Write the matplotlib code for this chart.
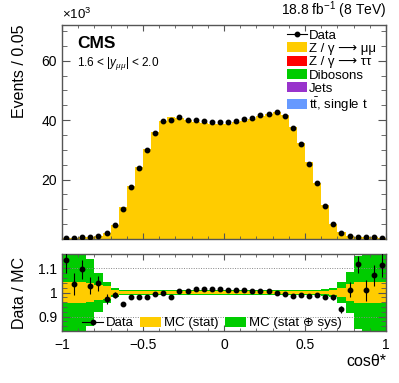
import numpy as np
import matplotlib
matplotlib.use("Agg")
import matplotlib.pyplot as plt
from matplotlib.patches import Patch
from matplotlib.lines import Line2D
from matplotlib.ticker import MultipleLocator

plt.rcParams['font.family'] = ['Liberation Sans', 'DejaVu Sans']
plt.rcParams['mathtext.fontset'] = 'custom'
plt.rcParams['mathtext.rm'] = 'Liberation Sans'
plt.rcParams['mathtext.it'] = 'Liberation Sans:italic'
plt.rcParams['mathtext.bf'] = 'Liberation Sans:bold'

# ---------------- data ----------------
edges = np.linspace(-1, 1, 41)
# data (x10^3 events per bin)
data = [0.4, 0.4, 0.7, 0.8, 1.1, 2.1, 4.8, 10.2, 17.4, 23.8,
        29.8, 35.6, 39.6, 40.2, 41.0, 40.1, 40.0, 39.7, 39.3, 39.2,
        39.2, 39.6, 40.3, 40.7, 41.6, 42.2, 42.6, 41.4, 37.2, 31.9,
        25.4, 18.8, 11.1, 5.1, 2.1, 1.1, 0.8, 0.6, 0.6, 0.4]
# data / MC ratio
ratio = [1.133, 1.035, 1.096, 1.028, 1.038, 0.972, 0.990, 0.954, 0.983, 0.980,
         0.981, 0.992, 0.998, 0.983, 1.008, 1.005, 1.014, 1.013, 1.013, 1.013,
         1.010, 1.010, 1.012, 1.008, 1.006, 1.005, 0.999, 0.995, 0.986, 0.991,
         0.986, 0.991, 0.981, 0.980, 0.930, 1.012, 1.117, 1.009, 1.071, 1.114]
ratio_err = [0.050, 0.045, 0.040, 0.035, 0.030, 0.020, 0.012, 0.008, 0.005, 0.004,
             0.003, 0.003, 0.003, 0.003, 0.003, 0.003, 0.003, 0.003, 0.003, 0.003,
             0.003, 0.003, 0.003, 0.003, 0.003, 0.003, 0.003, 0.003, 0.003, 0.003,
             0.004, 0.005, 0.006, 0.010, 0.015, 0.030, 0.035, 0.045, 0.045, 0.050]
# MC stat and stat+sys half-widths
mc_stat = [0.045, 0.045, 0.045, 0.040, 0.033, 0.025, 0.012, 0.008, 0.006, 0.005,
           0.005, 0.005, 0.005, 0.005, 0.005, 0.005, 0.005, 0.005, 0.005, 0.005,
           0.005, 0.005, 0.005, 0.005, 0.005, 0.005, 0.005, 0.005, 0.005, 0.006,
           0.006, 0.007, 0.008, 0.010, 0.020, 0.035, 0.045, 0.045, 0.045, 0.045]
mc_tot = [0.200, 0.200, 0.170, 0.140, 0.080, 0.045, 0.020, 0.012, 0.010, 0.009,
          0.009, 0.009, 0.009, 0.009, 0.009, 0.009, 0.009, 0.009, 0.009, 0.009,
          0.009, 0.009, 0.009, 0.009, 0.009, 0.009, 0.009, 0.009, 0.009, 0.010,
          0.010, 0.012, 0.014, 0.020, 0.045, 0.085, 0.150, 0.200, 0.200, 0.200]
# small backgrounds (x10^3)
bkg_tautau = [0.0, 0.0, 0.0, 0.0, 0.0, 0.0, 0.01, 0.02, 0.03, 0.04,
              0.05, 0.05, 0.05, 0.05, 0.05, 0.05, 0.05, 0.05, 0.05, 0.05,
              0.05, 0.05, 0.05, 0.05, 0.05, 0.05, 0.05, 0.05, 0.05, 0.04,
              0.03, 0.02, 0.01, 0.01, 0.0, 0.0, 0.0, 0.0, 0.0, 0.0]
bkg_diboson = [0.0, 0.0, 0.0, 0.0, 0.0, 0.0, 0.01, 0.01, 0.02, 0.02,
               0.03, 0.03, 0.03, 0.03, 0.03, 0.03, 0.03, 0.03, 0.03, 0.03,
               0.03, 0.03, 0.03, 0.03, 0.03, 0.03, 0.03, 0.03, 0.03, 0.03,
               0.02, 0.02, 0.01, 0.01, 0.0, 0.0, 0.0, 0.0, 0.0, 0.0]
bkg_jets = [0.0, 0.0, 0.0, 0.0, 0.0, 0.0, 0.0, 0.01, 0.01, 0.02,
            0.02, 0.02, 0.02, 0.02, 0.02, 0.02, 0.02, 0.02, 0.02, 0.02,
            0.02, 0.02, 0.02, 0.02, 0.02, 0.02, 0.03, 0.03, 0.03, 0.03,
            0.03, 0.03, 0.02, 0.01, 0.0, 0.0, 0.0, 0.0, 0.0, 0.0]
bkg_top = [0.0, 0.0, 0.0, 0.0, 0.0, 0.0, 0.01, 0.02, 0.03, 0.04,
           0.05, 0.05, 0.05, 0.05, 0.05, 0.05, 0.05, 0.05, 0.05, 0.05,
           0.05, 0.05, 0.05, 0.05, 0.05, 0.05, 0.05, 0.05, 0.05, 0.05,
           0.04, 0.03, 0.02, 0.01, 0.0, 0.0, 0.0, 0.0, 0.0, 0.0]

labels = ['Data', 'Z / γ \u27f6 μμ', 'Z / γ \u27f6 ττ', 'Dibosons', 'Jets',
          r'$\mathrm{t\bar{t}}$, single t']
colors = {'zmm': '#ffcc00', 'ztt': '#ff0000', 'vv': '#00cc00',
          'jets': '#9933cc', 'top': '#6699ff'}

# ---------------- derived ----------------
data = np.array(data)
ratio = np.array(ratio)
mc_total = data / ratio
bkgs = [np.array(bkg_top), np.array(bkg_jets), np.array(bkg_diboson), np.array(bkg_tautau)]
bkg_cols = [colors['top'], colors['jets'], colors['vv'], colors['ztt']]
zmm = mc_total - sum(bkgs)
centers = 0.5 * (edges[:-1] + edges[1:])

W, H = 399, 383
fig = plt.figure(figsize=(W / 100, H / 100), dpi=100)

def fx(px):
    return px / W

def fy(py):
    return 1 - py / H

ax = fig.add_axes([fx(62), fy(239), fx(386) - fx(62), fy(25) - fy(239)])
axr = fig.add_axes([fx(62), fy(331), fx(386) - fx(62), fy(254) - fy(331)])

spine_col = '#555555'
for a in (ax, axr):
    for s in a.spines.values():
        s.set_color(spine_col)
        s.set_linewidth(1.0)
    a.tick_params(which='both', direction='in', top=True, right=True,
                  colors=spine_col, labelcolor='black', labelsize=10)
    a.tick_params(axis='y', which='major', length=6)
    a.tick_params(axis='y', which='minor', length=3.5)
    a.tick_params(axis='x', which='major', length=4.5)
    a.tick_params(axis='x', which='minor', length=2.5)
    a.set_xlim(-1, 1)
    a.xaxis.set_major_locator(MultipleLocator(0.5))
    a.xaxis.set_minor_locator(MultipleLocator(0.1))

# ---- stacked histogram ----
base = np.zeros_like(zmm)
for b, c in zip(bkgs, bkg_cols):
    ax.stairs(base + b, edges, baseline=base, fill=True, color=c, lw=0)
    base = base + b
ax.stairs(base + zmm, edges, baseline=base, fill=True, color=colors['zmm'], lw=0)
ax.plot(centers, data, 'o', color='black', ms=3.2, zorder=5)

ax.set_ylim(0, 72)
ax.set_yticks([20, 40, 60])
ax.yaxis.set_minor_locator(MultipleLocator(5))
ax.tick_params(axis='x', labelbottom=False)

ax.text(0.0, 1.015, r'$\times10^{3}$', transform=ax.transAxes, fontsize=9.5,
        ha='left', va='bottom')
ax.text(1.0, 1.02, r'18.8 fb$^{-1}$ (8 TeV)', transform=ax.transAxes,
        fontsize=10, ha='right', va='bottom')
ax.text(fx(77 - 62) / (fx(386) - fx(62)), 0.95, 'CMS', transform=ax.transAxes,
        fontsize=12.5, fontweight='bold', ha='left', va='top')
ax.text(0.047, 0.82, r'1.6 < $|y_{\mu\mu}|$ < 2.0', transform=ax.transAxes,
        fontsize=8.5, ha='left', va='center')

fig.text(fx(20), fy(25), 'Events / 0.05', rotation=90, fontsize=11.5,
         ha='center', va='top')

handles = [Line2D([], [], color='black', marker='o', ms=3.2, lw=0.8),
           Patch(facecolor=colors['zmm'], lw=0),
           Patch(facecolor=colors['ztt'], lw=0),
           Patch(facecolor=colors['vv'], lw=0),
           Patch(facecolor=colors['jets'], lw=0),
           Patch(facecolor=colors['top'], lw=0)]
leg = ax.legend(handles, labels, loc='upper left',
                bbox_to_anchor=((287 - 62) / 324, (239 - 29) / 214),
                frameon=False, fontsize=9.5, handlelength=1.5, handleheight=0.8,
                handletextpad=0.15, labelspacing=0.05, borderaxespad=0,
                borderpad=0)

# ---- ratio panel ----
mc_tot = np.array(mc_tot)
mc_stat = np.array(mc_stat)
axr.stairs(1 + mc_tot, edges, baseline=1 - mc_tot, fill=True, color='#00cc00', lw=0)
axr.stairs(1 + mc_stat, edges, baseline=1 - mc_stat, fill=True, color='#ffcc00', lw=0)
for yv in (0.9, 1.1):
    axr.axhline(yv, color='#888888', ls=(0, (1, 1.5)), lw=0.7, zorder=1)
axr.errorbar(centers, ratio, yerr=ratio_err, fmt='o', color='black', ms=3.2,
             elinewidth=0.8, capsize=0, zorder=5)
axr.set_ylim(0.84, 1.16)
axr.set_yticks([0.9, 1.0, 1.1])
axr.set_yticklabels(['0.9', '1', '1.1'])
axr.yaxis.set_minor_locator(MultipleLocator(0.02))
axr.set_xticks([-1, -0.5, 0, 0.5, 1])
axr.set_xticklabels(['\u22121', '\u22120.5', '0', '0.5', '1'])
axr.tick_params(axis='x', pad=5)

fig.text(fx(20), (fy(331) + fy(254)) / 2, 'Data / MC', rotation=90,
         fontsize=11.5, ha='center', va='center')
fig.text(fx(386), fy(362), 'cosθ*', fontsize=11.5, ha='right', va='center')

rhandles = [Line2D([], [], color='black', marker='o', ms=3.2, lw=0.8),
            Patch(facecolor='#ffcc00', lw=0),
            Patch(facecolor='#00cc00', lw=0)]
axr.legend(rhandles, ['Data', 'MC (stat)', 'MC (stat ⊕ sys)'], loc='lower left',
           bbox_to_anchor=((82 - 62) / 324, 0.02), ncol=3, frameon=False,
           fontsize=9.5, handlelength=1.6, handleheight=0.8, handletextpad=0.2,
           columnspacing=0.5, borderaxespad=0, borderpad=0)

fig.savefig('out.png', dpi=100)
